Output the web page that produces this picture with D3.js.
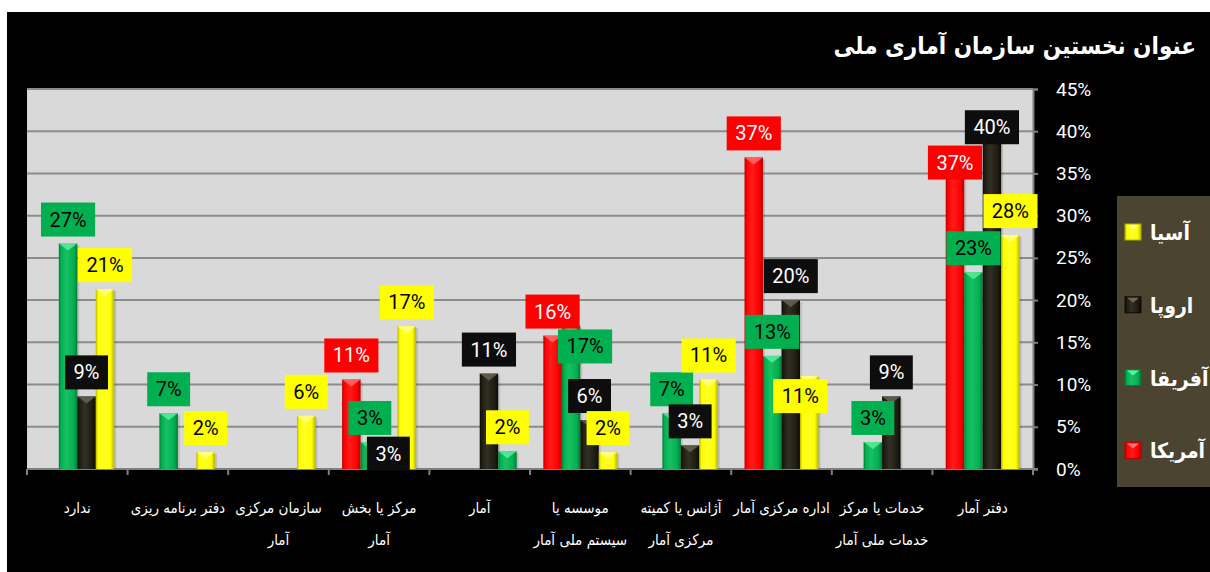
<!DOCTYPE html>
<html>
<head>
<meta charset="utf-8">
<script src="https://cdn.jsdelivr.net/npm/d3@7"></script>
<style>
  body { margin: 0; background: #fff; }
  text { font-family: Roboto, "Noto Sans", sans-serif; }
  .fa { font-family: "DejaVu Sans Condensed", "DejaVu Sans", sans-serif; }
</style>
</head>
<body>
<svg id="chart" width="1210" height="572"></svg>
<script>
// Categories, right to left as in the picture (first one sits at the right)
var categoryLines = [
  ["دفتر آمار"],
  ["خدمات یا مرکز", "خدمات ملی آمار"],
  ["اداره مرکزی آمار"],
  ["آژانس یا کمیته", "مرکزی آمار"],
  ["موسسه یا", "سیستم ملی آمار"],
  ["آمار"],
  ["مرکز یا بخش", "آمار"],
  ["سازمان مرکزی", "آمار"],
  ["دفتر برنامه ریزی"],
  ["ندارد"]
];
var categories = categoryLines.map(function (l) { return l.join(" "); });

var seriesNames = ["آمریکا", "آفریقا", "اروپا", "آسیا"];

// values in percent, null = no bar
var america = [37, null, 36.9, null, 15.8, null, 10.6, null, null, null];
var africa  = [23.3, 3.2, 13.4, 6.6, 17, null, 3.2, null, 6.6, 26.7];
var europe  = [40, 8.6, 20, 2.8, 5.8, 11.3, 3, null, null, 8.6];
var asia    = [27.7, null, 11, 10.6, 2, 2.1, 16.9, 6.3, 2, 21.3];

var yTicks = [0, 5, 10, 15, 20, 25, 30, 35, 40, 45];

var title = "عنوان نخستین سازمان آماری ملی";

var seriesValues = [america, africa, europe, asia];

// colours
var colors = {
  "آمریکا": { base: "#ff0000", dark: "#b80000", light: "#ff7070", text: "#fff" },
  "آفریقا": { base: "#00b050", dark: "#007a36", light: "#5ff0a0", text: "#000" },
  "اروپا":  { base: "#1f1c12", dark: "#0c0b06", light: "#6a6658", text: "#fff" },
  "آسیا":   { base: "#ffff00", dark: "#b5b500", light: "#ffff90", text: "#000" }
};
var labelBg = { "آمریکا": "#ff0000", "آفریقا": "#00b050", "اروپا": "#0d0d0d", "آسیا": "#ffff00" };

// single point drawn in another colour in the original
var colorOverride = { "آمار|آسیا": "آفریقا" };
// labels that were dragged away from their bar
var labelNudge = {
  "دفتر آمار|آمریکا": [0, 30],
  "دفتر آمار|اروپا": [0, 20],
  "اداره مرکزی آمار|آسیا": [-9, 44],
  "موسسه یا سیستم ملی آمار|آفریقا": [14, 45],
  "مرکز یا بخش آمار|اروپا": [0, 34]
};

var W = 1210, H = 572;
var plot = { left: 27, right: 1033, top: 89, bottom: 469 };

var svg = d3.select("#chart");
var defs = svg.append("defs");

svg.append("rect").attr("x", 7).attr("y", 12).attr("width", W - 7).attr("height", H - 12).attr("fill", "#000");

// gradients for the bars
seriesNames.forEach(function (s, i) {
  var c = colors[s];
  var g = defs.append("linearGradient").attr("id", "grad" + i)
    .attr("x1", "0%").attr("x2", "100%").attr("y1", "0%").attr("y2", "0%");
  g.append("stop").attr("offset", "0%").attr("stop-color", c.dark);
  g.append("stop").attr("offset", "12%").attr("stop-color", c.base);
  g.append("stop").attr("offset", "40%").attr("stop-color", d3.interpolateRgb(c.base, c.light)(0.25));
  g.append("stop").attr("offset", "80%").attr("stop-color", c.base);
  g.append("stop").attr("offset", "100%").attr("stop-color", c.dark);
});

// plot background
svg.append("rect")
  .attr("x", plot.left).attr("y", plot.top)
  .attr("width", plot.right - plot.left).attr("height", plot.bottom - plot.top)
  .attr("fill", "#d9d9d9");

var x = d3.scaleBand().domain(categories).range([plot.right, plot.left]).padding(0);
var xSub = d3.scaleBand().domain(seriesNames).range([0, x.bandwidth()]).paddingInner(0).paddingOuter(0.72);
var y = d3.scaleLinear().domain([0, 45]).range([plot.bottom, plot.top]);

// gridlines
svg.append("g").selectAll("line")
  .data(yTicks.slice(1))
  .enter().append("line")
  .attr("x1", plot.left).attr("x2", plot.right)
  .attr("y1", function (d) { return y(d); }).attr("y2", function (d) { return y(d); })
  .attr("stroke", "#8c8c8c").attr("stroke-width", 2);

// y axis on the right
var yAxis = svg.append("g")
  .attr("transform", "translate(" + plot.right + ",0)")
  .call(d3.axisRight(y).tickValues(yTicks).tickSize(5).tickPadding(18)
    .tickFormat(function (d) { return d + "%"; }));
yAxis.select(".domain").attr("stroke", "#7f7f7f").attr("stroke-width", 2);
yAxis.selectAll(".tick line").attr("stroke", "#7f7f7f").attr("stroke-width", 2);
yAxis.selectAll(".tick text").attr("fill", "#fff").style("font-size", "19px").attr("text-anchor", "start");

// x axis line + ticks at category borders
svg.append("line")
  .attr("x1", plot.left).attr("x2", plot.right + 5)
  .attr("y1", plot.bottom).attr("y2", plot.bottom)
  .attr("stroke", "#7f7f7f").attr("stroke-width", 2);
var borders = categories.map(function (c) { return x(c); }).concat([x(categories[0]) + x.bandwidth()]);
svg.append("g").selectAll("line")
  .data(borders)
  .enter().append("line")
  .attr("x1", function (d) { return d; }).attr("x2", function (d) { return d; })
  .attr("y1", plot.bottom).attr("y2", plot.bottom + 6)
  .attr("stroke", "#7f7f7f").attr("stroke-width", 2);

// category labels
var catG = svg.append("g").selectAll("text")
  .data(categories)
  .enter().append("text")
  .attr("class", "fa")
  .attr("fill", "#fff")
  .attr("text-anchor", "middle")
  .style("font-size", "15px")
  .attr("transform", function (d) { return "translate(" + (x(d) + x.bandwidth() / 2) + ",0)"; });
catG.each(function (d, i) {
  var t = d3.select(this);
  categoryLines[i].forEach(function (line, j) {
    t.append("tspan").attr("x", 0).attr("y", 513 + j * 32).text(line);
  });
});

// flatten the series
var points = [];
seriesNames.forEach(function (s, si) {
  seriesValues[si].forEach(function (v, ci) {
    if (v === null) return;
    points.push({ series: s, si: si, cat: categories[ci], value: v });
  });
});

var barsG = svg.append("g");
points.forEach(function (p) {
  var key = p.cat + "|" + p.series;
  var colSeries = colorOverride[key] || p.series;
  var ci = seriesNames.indexOf(colSeries);
  var c = colors[colSeries];
  var bx = x(p.cat) + xSub(p.series), bw = xSub.bandwidth();
  var top = y(p.value);
  var g = barsG.append("g");
  g.append("rect")
    .attr("x", bx + 2).attr("y", top + 2)
    .attr("width", bw).attr("height", plot.bottom - top - 2)
    .attr("fill", "rgba(0,0,0,0.12)");
  g.append("rect")
    .attr("x", bx).attr("y", top)
    .attr("width", bw).attr("height", plot.bottom - top)
    .attr("fill", "url(#grad" + ci + ")");
  g.append("path")
    .attr("d", "M" + bx + "," + top + "L" + (bx + bw) + "," + top +
      "L" + (bx + bw / 2) + "," + (top + 7) + "Z")
    .attr("fill", c.light).attr("opacity", 0.8);
});

// data labels
var labG = svg.append("g");
points.forEach(function (p) {
  var key = p.cat + "|" + p.series;
  var nudge = labelNudge[key] || [0, 0];
  var cx = x(p.cat) + xSub(p.series) + xSub.bandwidth() / 2 + nudge[0];
  var bottom = y(p.value) - 7 + nudge[1];
  var g = labG.append("g");
  var box = g.append("rect").attr("fill", labelBg[p.series]);
  var t = g.append("text")
    .attr("x", cx).attr("y", bottom - 10)
    .attr("text-anchor", "middle")
    .attr("fill", colors[p.series].text)
    .style("font-size", "20px")
    .text(Math.round(p.value) + "%");
  var w = t.node().getComputedTextLength() + 17;
  box.attr("x", cx - w / 2).attr("y", bottom - 34).attr("width", w).attr("height", 34);
});

// legend
var legendOrder = seriesNames.slice().reverse();
svg.append("rect").attr("x", 1117).attr("y", 196).attr("width", 93).attr("height", 291).attr("fill", "#4a4430");
var leg = svg.append("g").selectAll("g")
  .data(legendOrder)
  .enter().append("g")
  .attr("transform", function (d, i) { return "translate(1125," + (232 + i * 72.8) + ")"; });
leg.append("rect")
  .attr("x", 0).attr("y", -8).attr("width", 16).attr("height", 16)
  .attr("fill", function (d) { return "url(#grad" + seriesNames.indexOf(d) + ")"; })
  .attr("stroke", function (d) { return colors[d].dark; }).attr("stroke-width", 1);
leg.append("path")
  .attr("d", "M2,-7L14,-7L8,-2Z")
  .attr("fill", function (d) { return colors[d].light; });
leg.append("text")
  .attr("class", "fa")
  .attr("x", 25).attr("y", 8)
  .attr("fill", "#fff")
  .style("font-size", "21px").style("font-weight", "bold")
  .text(function (d) { return d; });

// title
svg.append("text")
  .attr("class", "fa")
  .attr("x", 1196).attr("y", 54)
  .attr("text-anchor", "end")
  .attr("fill", "#fff")
  .style("font-size", "24px").style("font-weight", "bold")
  .text(title);
</script>
</body>
</html>
